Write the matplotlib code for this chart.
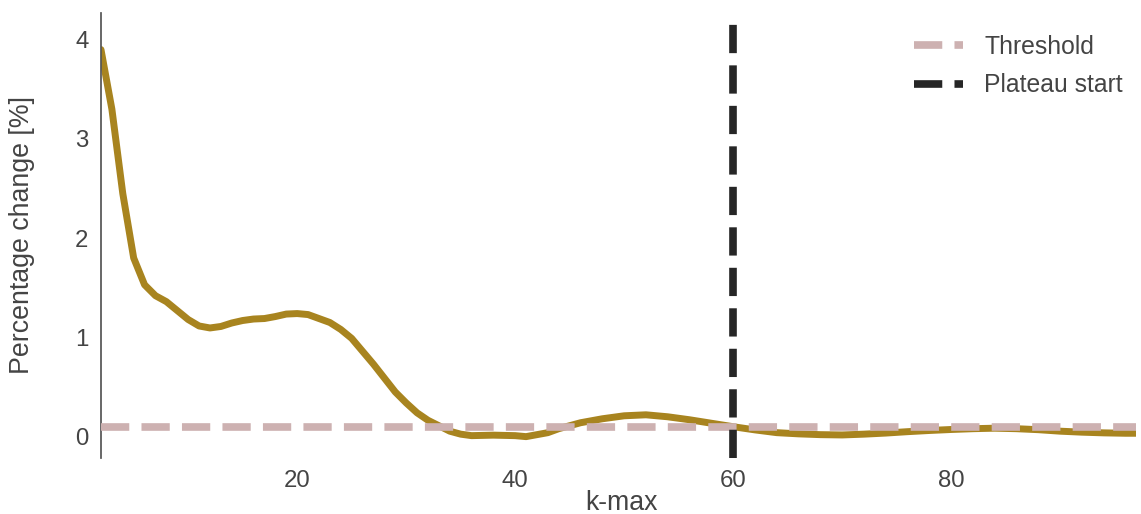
import matplotlib
matplotlib.use("Agg")
import matplotlib.pyplot as plt

plt.rcParams['font.family'] = ['Liberation Sans', 'DejaVu Sans']

# Percentage change of the score as k-max grows
k_values = [2, 3, 4, 5, 6, 7, 8, 9, 10, 11, 12, 13, 14, 15, 16, 17, 18, 19,
            20, 21, 22, 23, 24, 25, 26, 27, 28, 29, 30, 31, 32, 33, 34, 35,
            36, 38, 40, 41, 42, 43, 44, 45, 46, 48, 50, 52, 54, 56, 58, 60,
            62, 64, 66, 68, 70, 72, 74, 76, 78, 80, 82, 84, 86, 88, 90, 92,
            94, 96, 97]
pct_change = [3.90, 3.30, 2.45, 1.80, 1.53, 1.42, 1.36, 1.27, 1.18, 1.115,
              1.095, 1.11, 1.145, 1.17, 1.185, 1.19, 1.21, 1.235, 1.24, 1.23,
              1.19, 1.15, 1.08, 0.99, 0.86, 0.73, 0.59, 0.45, 0.34, 0.24,
              0.165, 0.11, 0.055, 0.025, 0.01, 0.015, 0.01, 0.0, 0.02, 0.04,
              0.08, 0.11, 0.14, 0.18, 0.21, 0.22, 0.20, 0.17, 0.135, 0.10,
              0.068, 0.04, 0.028, 0.02, 0.017, 0.025, 0.036, 0.05, 0.062,
              0.072, 0.08, 0.085, 0.08, 0.07, 0.055, 0.045, 0.038, 0.034,
              0.034]

threshold = 0.1
plateau_start = 60
x_ticks = [20, 40, 60, 80]
y_ticks = [0, 1, 2, 3, 4]

text_color = '#444444'

fig = plt.figure(figsize=(11.41, 5.14), dpi=100)
ax = fig.add_axes([0.0885, 0.109, 0.9075, 0.866])

ax.plot(k_values, pct_change, color='#a8841f', lw=5.0,
        solid_capstyle='round', solid_joinstyle='round', zorder=2)
ax.axhline(threshold, color='#cdb1b1', lw=5.5, ls='--', label='Threshold',
           zorder=3)
ax.axvline(plateau_start, color='#262626', lw=5.5, ls='--',
           label='Plateau start', zorder=4)

ax.set_xlim(2, 97)
ax.set_ylim(-0.215, 4.27)
ax.set_xticks(x_ticks)
ax.set_yticks(y_ticks)
ax.tick_params(axis='both', length=0, labelsize=17.3, labelcolor=text_color,
               pad=9)

for side in ['top', 'right', 'bottom']:
    ax.spines[side].set_visible(False)
ax.spines['left'].set_color('#555555')
ax.spines['left'].set_linewidth(1.25)

ax.set_xlabel('k-max', fontsize=19.2, color=text_color)
ax.set_ylabel('Percentage change [%]', fontsize=19.3, color=text_color)
ax.xaxis.set_label_coords(0.503, -0.072)
ax.yaxis.set_label_coords(-0.064, 0.5)

leg = ax.legend(loc='upper right', bbox_to_anchor=(0.9966, 0.9735),
                frameon=False, fontsize=17.8, handlelength=2.0,
                handletextpad=0.85, labelspacing=0.6, borderaxespad=0.0)
for t in leg.get_texts():
    t.set_color(text_color)

fig.savefig('out.png', dpi=100, facecolor='white')
